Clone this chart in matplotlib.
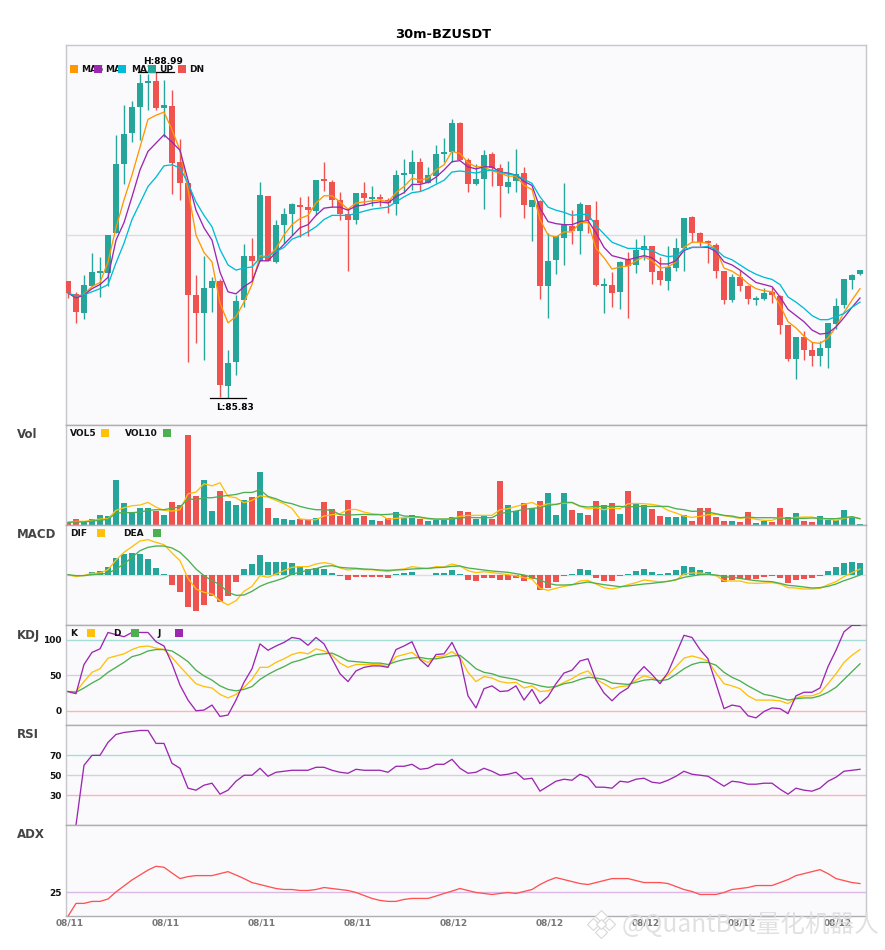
import numpy as np
import matplotlib
matplotlib.use('Agg')
import matplotlib.pyplot as plt
from matplotlib.patches import Rectangle
from matplotlib.lines import Line2D
from matplotlib.transforms import ScaledTranslation, Bbox

opens = [86.96,86.84,86.65,86.92,87.04,87.04,87.43,88.10,88.40,88.65,88.88,88.90,88.64,88.66,88.12,87.91,86.83,86.65,86.90,86.96,
         85.95,86.18,86.78,87.21,87.16,87.79,87.15,87.51,87.61,87.70,87.68,87.64,87.94,87.92,87.75,87.61,87.56,87.82,87.76,87.77,
         87.75,87.71,87.99,88.00,88.12,87.91,87.98,88.19,88.21,88.49,88.14,87.90,87.95,88.19,88.06,87.87,87.93,88.01,87.68,87.74,
         86.92,87.17,87.38,87.50,87.45,87.70,87.56,86.92,86.93,86.86,87.17,87.12,87.26,87.30,87.06,86.96,87.09,87.28,87.58,87.43,
         87.34,87.31,87.06,86.78,87.00,86.92,86.78,86.79,86.86,86.82,86.54,86.21,86.42,86.30,86.24,86.32,86.55,86.73,86.97,87.03]
highs = [86.96,86.86,87.02,87.24,87.20,87.41,88.38,88.67,88.71,88.97,88.97,88.99,88.91,88.81,88.34,87.91,87.02,87.21,87.00,86.98,
         86.30,86.83,87.32,87.38,87.92,87.79,87.56,87.67,87.72,87.78,87.79,87.94,88.12,87.94,87.83,87.66,87.82,87.92,87.88,87.81,
         87.77,88.04,88.15,88.23,88.16,88.07,88.28,88.35,88.53,88.50,88.16,88.10,88.23,88.21,88.10,88.13,88.24,88.07,87.75,87.75,
         87.43,87.40,87.91,87.65,87.73,87.70,87.74,86.99,87.05,87.16,87.25,87.37,87.41,87.30,87.20,87.30,87.38,87.57,87.59,87.44,
         87.36,87.33,87.06,87.03,87.07,86.93,86.82,86.90,86.91,86.83,86.54,86.42,86.48,86.37,86.38,86.56,86.80,86.98,87.03,87.07]
lows = [86.80,86.56,86.60,86.92,86.81,86.92,87.43,87.90,88.31,88.33,88.62,88.62,88.36,87.81,87.75,86.18,86.36,86.20,86.66,85.84,
        85.83,86.05,86.71,86.96,87.16,87.16,87.14,87.33,87.41,87.39,87.40,87.60,87.84,87.68,87.56,87.06,87.52,87.70,87.69,87.69,
        87.62,87.60,87.82,87.85,87.84,87.91,87.91,88.12,88.12,88.14,87.83,87.89,87.66,87.88,87.58,87.82,87.83,87.57,87.35,86.79,
        86.61,87.03,87.12,87.32,87.23,87.43,86.92,86.65,86.71,86.69,86.61,87.04,87.17,86.94,86.93,86.88,87.06,87.06,87.34,87.30,
        87.14,86.99,86.74,86.76,86.87,86.74,86.73,86.78,86.75,86.45,86.19,86.02,86.20,86.14,86.14,86.12,86.50,86.70,86.89,87.02]
closes = [86.85,86.66,86.93,87.05,87.05,87.41,88.10,88.39,88.65,88.88,88.90,88.64,88.67,88.11,87.91,86.83,86.65,86.90,86.96,85.96,
          86.17,86.77,87.21,87.16,87.80,87.16,87.51,87.61,87.71,87.68,87.65,87.94,87.93,87.75,87.61,87.56,87.82,87.77,87.77,87.76,
          87.72,87.99,88.00,88.12,87.91,87.99,88.19,88.20,88.49,88.14,87.90,87.95,88.18,88.06,87.88,87.92,88.00,87.70,87.75,86.92,
          87.16,87.40,87.51,87.45,87.71,87.56,86.93,86.93,86.85,87.15,87.11,87.26,87.30,87.05,86.97,87.10,87.28,87.57,87.43,87.34,
          87.33,87.06,86.78,87.00,86.92,86.79,86.79,86.85,86.83,86.54,86.21,86.42,86.30,86.24,86.32,86.56,86.72,86.98,87.02,87.07]

ma5 = [86.85,86.80,86.84,86.91,86.95,87.15,87.48,87.75,87.99,88.26,88.53,88.57,88.60,88.43,88.23,87.85,87.41,87.24,87.15,86.75,
       86.56,86.62,86.76,86.93,87.21,87.20,87.28,87.41,87.51,87.57,87.60,87.72,87.79,87.79,87.73,87.66,87.72,87.73,87.74,87.75,
       87.73,87.82,87.88,87.96,87.94,87.96,88.04,88.09,88.22,88.20,88.11,88.07,88.07,88.03,88.01,87.98,87.98,87.89,87.85,87.56,
       87.41,87.39,87.44,87.44,87.53,87.53,87.28,87.19,87.08,87.10,87.11,87.16,87.20,87.16,87.09,87.10,87.15,87.29,87.34,87.34,
       87.33,87.27,87.09,87.06,87.01,86.94,86.89,86.87,86.86,86.73,86.57,86.51,86.43,86.37,86.36,86.41,86.52,86.66,86.78,86.89]
ma10 = [86.85,86.80,86.83,86.89,86.93,87.00,87.36,87.53,87.78,88.04,88.22,88.30,88.38,88.31,88.23,87.94,87.65,87.48,87.36,87.05,
        86.86,86.84,86.91,86.96,87.16,87.16,87.24,87.32,87.40,87.48,87.51,87.60,87.67,87.68,87.68,87.65,87.69,87.70,87.72,87.73,
        87.72,87.78,87.82,87.90,87.90,87.92,87.97,88.04,88.12,88.13,88.07,88.05,88.07,88.07,88.02,88.01,87.99,87.93,87.89,87.67,
        87.54,87.52,87.51,87.51,87.54,87.55,87.43,87.29,87.21,87.19,87.17,87.19,87.21,87.19,87.13,87.13,87.16,87.26,87.29,87.29,
        87.29,87.25,87.15,87.12,87.07,87.01,86.95,86.93,86.91,86.81,86.69,86.63,86.57,86.49,86.45,86.46,86.52,86.61,86.71,86.80]
ma20 = [86.85,86.82,86.83,86.86,86.89,86.93,87.14,87.33,87.56,87.72,87.88,87.97,88.08,88.09,88.06,87.91,87.73,87.60,87.49,87.27,
        87.12,87.07,87.09,87.10,87.19,87.20,87.25,87.29,87.37,87.40,87.44,87.49,87.56,87.60,87.60,87.60,87.62,87.64,87.66,87.67,
        87.68,87.73,87.78,87.82,87.83,87.86,87.90,87.94,88.02,88.03,88.02,88.01,88.03,88.04,88.02,88.00,87.99,87.95,87.91,87.78,
        87.68,87.65,87.63,87.60,87.61,87.61,87.50,87.42,87.34,87.31,87.28,87.28,87.28,87.26,87.22,87.20,87.21,87.27,87.29,87.29,
        87.30,87.27,87.20,87.17,87.12,87.07,87.03,87.00,86.98,86.93,86.81,86.76,86.70,86.63,86.59,86.59,86.62,86.65,86.71,86.76]

volume = [8,17,11,17,29,26,134,65,38,50,50,41,29,68,59,272,86,134,41,101,71,59,74,83,161,50,20,17,
          14,17,14,20,68,47,26,74,20,26,14,11,20,38,20,29,17,11,14,14,23,41,38,17,26,17,131,59,41,65,50,71,95,29,95,44,35,29,
          71,59,65,32,101,62,59,47,26,23,23,29,11,50,50,23,11,11,8,38,5,11,8,50,23,35,11,8,26,14,14,44,23,2]
vol5 = [8,11,11,14,18,19,44,52,58,60,68,54,44,42,46,94,99,124,118,127,86,82,67,74,88,84,74,64,
        50,18,16,16,27,31,34,46,47,39,34,32,17,20,22,23,22,18,17,17,19,26,29,29,29,29,46,49,56,62,68,56,64,62,66,67,56,48,
        52,46,51,49,64,65,64,62,58,44,36,27,23,26,31,32,28,24,20,23,17,14,14,23,18,23,24,24,19,18,14,20,25,19]
vol10 = [8,9,9,12,14,17,36,37,37,39,44,46,46,51,54,79,76,82,82,86,89,92,98,98,106,86,79,69,64,
         56,50,46,46,44,31,30,31,32,31,31,32,34,27,26,24,20,18,18,18,21,23,22,22,22,35,38,42,47,50,52,59,62,68,68,57,54,
         56,56,56,56,54,56,56,56,56,56,49,46,41,42,39,34,29,27,22,24,22,22,22,21,20,20,20,21,20,19,19,22,25,19]

macd_hist = [0,-0.04,0,0.10,0.12,0.25,0.52,0.64,0.67,0.64,0.49,0.22,0.04,-0.29,-0.50,-0.95,-1.07,-0.89,-0.62,-0.80,-0.62,-0.20,0.19,0.34,0.61,0.40,0.40,0.40,0.37,0.28,
             0.19,0.22,0.19,0.07,-0.04,-0.14,-0.05,-0.05,-0.05,-0.05,-0.08,0.04,0.07,0.10,0,0,0.07,0.07,0.16,0.04,-0.14,-0.17,-0.08,-0.08,-0.14,-0.14,-0.08,-0.17,-0.11,-0.44,-0.38,-0.20,-0.02,0.04,0.19,0.16,
             -0.08,-0.17,-0.17,-0.02,0.04,0.13,0.19,0.10,0.04,0.07,0.16,0.28,0.25,0.16,0.10,-0.03,-0.20,-0.14,-0.11,-0.14,-0.11,-0.05,-0.02,-0.08,-0.23,-0.14,-0.11,-0.08,-0.02,0.13,0.25,0.37,0.40,0.37]
dif = [0.01,-0.05,-0.01,0.05,0.06,0.16,0.45,0.68,0.85,1.02,1.06,0.98,0.91,0.66,0.43,-0.10,-0.42,-0.52,-0.57,-0.77,-0.90,-0.77,-0.49,-0.34,-0.02,-0.07,0.03,0.13,
       0.23,0.25,0.25,0.33,0.37,0.33,0.21,0.15,0.18,0.16,0.16,0.13,0.10,0.16,0.18,0.25,0.22,0.19,0.25,0.24,0.33,0.27,0.13,0.07,0.10,0.07,0.04,0.01,-0.02,-0.08,-0.12,-0.40,-0.46,-0.40,-0.34,-0.30,-0.18,
       -0.16,-0.27,-0.38,-0.42,-0.37,-0.29,-0.23,-0.15,-0.18,-0.21,-0.19,-0.15,0.03,0.06,0.06,0.03,-0.02,-0.17,-0.18,-0.18,-0.24,-0.25,-0.24,-0.23,-0.27,-0.38,-0.39,-0.42,-0.42,-0.40,-0.29,-0.20,-0.05,0.07,0.18]
dea = [0.01,-0.02,-0.02,0.01,0.03,0.05,0.18,0.33,0.53,0.73,0.83,0.87,0.87,0.81,0.68,0.45,0.18,-0.02,-0.17,-0.29,-0.52,-0.61,-0.60,-0.49,-0.34,-0.24,-0.17,-0.09,
       0.03,0.08,0.15,0.19,0.26,0.28,0.23,0.21,0.20,0.18,0.17,0.15,0.14,0.15,0.16,0.18,0.19,0.20,0.22,0.23,0.26,0.27,0.21,0.18,0.15,0.12,0.10,0.08,0.04,0.00,-0.07,-0.15,-0.25,-0.30,-0.30,-0.29,-0.25,
       -0.21,-0.25,-0.29,-0.32,-0.35,-0.33,-0.30,-0.27,-0.25,-0.22,-0.19,-0.14,-0.07,-0.03,0.01,0.02,0.00,-0.05,-0.07,-0.10,-0.14,-0.17,-0.19,-0.20,-0.25,-0.31,-0.33,-0.36,-0.39,-0.38,-0.34,-0.27,-0.17,-0.09,0.00]

k_line = [27,27,41,54,59,74,77,80,86,90,91,88,86,75,62,50,38,34,32,23,18,23,33,44,61,61,68,73,79,82,
          80,87,84,78,67,61,65,65,65,65,62,76,79,82,73,68,76,77,83,75,54,41,48,46,41,39,40,32,35,27,28,34,40,45,52,56,
          44,38,31,34,35,43,49,46,42,50,62,74,77,74,70,53,38,35,31,21,15,15,15,14,10,18,21,21,25,38,52,68,78,86]
d_line = [27,26,32,39,45,54,61,68,76,79,84,86,86,84,77,69,57,49,43,35,30,28,30,34,44,51,57,62,68,71,
          75,79,80,81,76,70,69,68,67,67,65,69,72,74,75,73,73,75,77,78,69,59,54,52,48,46,44,40,38,35,33,34,38,40,44,47,
          46,44,39,38,37,40,43,44,42,44,51,59,65,68,68,64,54,47,42,35,29,23,21,18,15,17,18,18,21,26,33,44,55,66]
j_line = [27,24,65,82,87,110,107,104,110,110,110,97,91,66,36,15,0,1,8,-8,-6,15,40,59,94,85,91,96,103,101,
          92,103,94,73,52,41,56,61,63,63,61,86,91,97,72,62,79,80,96,73,21,4,31,35,27,28,35,15,30,10,20,38,53,57,70,73,
          43,25,14,25,32,50,62,51,38,54,80,106,103,86,73,38,3,8,6,-7,-10,-1,4,3,-4,21,26,26,32,62,85,111,120,120]

rsi = [np.nan,0,60,70,70,83,91,93,94,95,95,82,82,62,57,37,35,40,42,31,35,44,50,50,57,49,53,54,55,55,
       55,58,58,55,53,52,56,55,55,55,53,59,59,61,56,57,61,61,66,57,52,53,57,54,50,51,53,46,47,34,
       39,44,46,45,51,48,38,38,37,44,43,46,47,43,42,45,49,54,51,50,49,44,39,44,43,41,41,42,42,36,
       31,37,35,34,37,44,48,54,55,56]
adx = [13,19.5,19.5,20.5,20.5,21.7,25.3,28.3,31.3,33.8,36.3,38.2,37.7,34.8,32,33,33.5,33.5,33.5,34.5,
       35.5,33.8,32,30,29,28,27,26.5,26.5,26,26,26.5,27.5,27,26.5,26,25,23.5,22,21,20.5,20.5,21.5,22,22,22,23.2,
       24.5,25.7,27,26,25,24.5,24,24.5,25,24.5,25.5,26.5,29,31,32.5,31.5,30.5,29.5,29,30,31,32,32,32,31,30,30,30,29.5,28,
       26.5,25.5,24,24,24,25,26.5,27,27.5,28.5,28.5,28.5,30,31.5,33.5,34.5,35.5,36.5,34.5,32,31,30,29.5]

tick_labels = ['08/11', '08/11', '08/11', '08/11', '08/12', '08/12', '08/12', '08/12', '08/12']

UP = '#26a69a'
DOWN = '#ef5350'
W, H = 885, 950
BG = '#fafafd'
x = np.arange(len(opens))

fig = plt.figure(figsize=(W / 100, H / 100), dpi=100, facecolor='white')
plt.rcParams['font.family'] = ['DejaVu Sans']


def panel(top, bottom, ylim):
    # candle i sits on pixel 68 + 8 * i
    ax = fig.add_axes([65.5 / W, 1 - bottom / H, 800.5 / W, (bottom - top) / H], facecolor=BG)
    ax.set_xlim(-2.5 / 8, 798 / 8)
    ax.set_ylim(*ylim)
    ax.set_xticks([])
    ax.set_yticks([])
    for s in ['left', 'right']:
        ax.spines[s].set_color('#c6c6cc')
        ax.spines[s].set_linewidth(1)
    ax.spines['top'].set_color('#aeaeb2')
    ax.spines['bottom'].set_color('#aeaeb2')
    ax.spines['top'].set_linewidth(1)
    ax.spines['bottom'].set_linewidth(1)
    return ax


def legend_box(px, py, color):
    fig.add_artist(Rectangle((px / W, 1 - (py + 8) / H), 8 / W, 8 / H, transform=fig.transFigure,
                             facecolor=color, edgecolor='none', zorder=6))


def legend_text(px, py, s, clip_to=None):
    t = fig.text(px / W, 1 - py / H, s, fontsize=6.5, fontweight='bold', color='#111111',
                 ha='left', va='center', zorder=5)
    if clip_to is not None:
        t.set_clip_box(Bbox.from_extents(px - 1, 0, clip_to, H))
        t.set_clip_on(True)


def panel_title(py, s):
    fig.text(17 / W, 1 - py / H, s, fontsize=8.5, fontweight='bold', color='#444444', ha='left', va='center')


def y_labels(ax, vals):
    ax.set_yticks(vals)
    ax.set_yticklabels([str(v) for v in vals], fontsize=6.5, fontweight='bold', color='#111111')
    ax.tick_params(axis='y', length=0, pad=2.5)


colors = [UP if c > o else DOWN for o, c in zip(opens, closes)]

# main candles
ax = panel(45, 425, (85.57, 89.25))
ax.spines['top'].set_color('#c6c6cc')
ax.axhline((85.57 + 89.25) / 2, color='#dddde0', lw=1, zorder=1)
ax.vlines(x, lows, highs, color=colors, lw=1.0, zorder=2)
body_bottom = np.minimum(opens, closes)
body_height = np.maximum(np.abs(np.array(closes) - np.array(opens)), 0.02)
ax.bar(x, body_height, bottom=body_bottom, width=0.75, color=colors, zorder=3)
ax.plot(x, ma5, color='#ff9800', lw=0.95, zorder=4)
ax.plot(x, ma10, color='#9c27b0', lw=0.95, zorder=4)
ax.plot(x, ma20, color='#00bcd4', lw=0.95, zorder=4)

hi = int(np.argmax(highs))
lo = int(np.argmin(lows))
ax.plot([hi - 2.2, hi + 2.2], [highs[hi], highs[hi]], color='black', lw=0.9, zorder=5)
ax.plot([lo - 2.2, lo + 2.2], [lows[lo], lows[lo]], color='black', lw=0.9, zorder=5)
ax.annotate('H:%.2f' % highs[hi], (hi, highs[hi]), xytext=(5, 4), textcoords='offset points', ha='center',
            va='bottom', fontsize=6.5, fontweight='bold', color='black', zorder=8, annotation_clip=False)
ax.annotate('L:%.2f' % lows[lo], (lo, lows[lo]), xytext=(5, -3.5), textcoords='offset points', ha='center',
            va='top', fontsize=6.5, fontweight='bold', color='black', zorder=8, annotation_clip=False)

for px, s, clip in [(81, 'MA5', None), (105, 'MA10', 118), (131, 'MA20', 148), (159, 'UP', None), (189, 'DN', None)]:
    legend_text(px, 69.5, s, clip)
for px, c in [(70, '#ff9800'), (94, '#9c27b0'), (118, '#00bcd4'), (148, UP), (178, DOWN)]:
    legend_box(px, 65, c)

# volume
ax = panel(425, 525, (0, 301))
ax.bar(x, volume, width=0.75, color=colors, zorder=2)
ax.plot(x, vol5, color='#ffc107', lw=0.95, zorder=3)
ax.plot(x, vol10, color='#4caf50', lw=0.95, zorder=3)
panel_title(435, 'Vol')
legend_text(70, 434, 'VOL5')
legend_box(101, 429, '#ffc107')
legend_text(125, 434, 'VOL10')
legend_box(163, 429, '#4caf50')

# macd
ax = panel(525, 625, (-1.5, 1.5))
ax.axhline(0, color='#dddde0', lw=1, zorder=1)
ax.bar(x, macd_hist, width=0.75, color=[UP if v >= 0 else DOWN for v in macd_hist], zorder=2)
ax.plot(x, dif, color='#ffc107', lw=0.95, zorder=3)
ax.plot(x, dea, color='#4caf50', lw=0.95, zorder=3)
panel_title(535, 'MACD')
legend_text(70, 534, 'DIF')
legend_box(97, 529, '#ffc107')
legend_text(123, 534, 'DEA')
legend_box(153, 529, '#4caf50')

# kdj
ax = panel(625, 725, (-20, 120.5))
ax.axhline(100, color='#a8dcd6', lw=1, zorder=1)
ax.axhline(50, color='#d2d2d6', lw=1, zorder=1)
ax.axhline(0, color='#ffb3b3', lw=1, zorder=1)
ax.plot(x, k_line, color='#ffc107', lw=0.95, zorder=3)
ax.plot(x, d_line, color='#4caf50', lw=0.95, zorder=3)
ax.plot(x, j_line, color='#9c27b0', lw=0.95, zorder=3)
y_labels(ax, [0, 50, 100])
panel_title(635, 'KDJ')
legend_text(70, 634, 'K')
legend_box(87, 629, '#ffc107')
legend_text(113, 634, 'D')
legend_box(131, 629, '#4caf50')
legend_text(157, 634, 'J')
legend_box(175, 629, '#9c27b0')

# rsi
ax = panel(725, 825, (0, 100.5))
ax.axhline(70, color='#a8dcd6', lw=1, zorder=1)
ax.axhline(50, color='#d2d2d6', lw=1, zorder=1)
ax.axhline(30, color='#ffb3b3', lw=1, zorder=1)
ax.plot(x, rsi, color='#9c27b0', lw=0.95, zorder=3)
y_labels(ax, [30, 50, 70])
panel_title(735, 'RSI')

# adx
ax = panel(825, 915.7, (13.3, 59))
ax.axhline(25, color='#dcb8e4', lw=1, zorder=1)
ax.plot(x, adx, color='#ff5252', lw=0.95, zorder=3)
y_labels(ax, [25])
panel_title(835, 'ADX')
ax.set_xticks(x[::12])
ax.set_xticklabels(tick_labels, fontsize=6.5, fontweight='bold', color='#777777')
ax.tick_params(axis='x', length=0, pad=2)
for lab in ax.get_xticklabels():
    lab.set_transform(lab.get_transform() + ScaledTranslation(2 / 100, 0, fig.dpi_scale_trans))

fig.text(443 / W, 1 - 34.5 / H, '30m-BZUSDT', fontsize=9.4, fontweight='bold', color='black', ha='center', va='center')

# watermark
fig.text(622 / W, 1 - 925 / H, '@QuantBot量化机器人', fontsize=17.7, color='#dcdcdc', alpha=0.85, ha='left', va='center',
         family=['Noto Sans CJK SC', 'DejaVu Sans'], zorder=7)
for dx, dy, ms in [(0, -8, 6), (-8, 0, 6), (8, 0, 6), (0, 8, 6), (0, 0, 5)]:
    fig.add_artist(Line2D([(601 + dx) / W], [1 - (924 + dy) / H], transform=fig.transFigure, marker='D',
                          markersize=ms, markerfacecolor='white', markeredgecolor='#d8d8d8', markeredgewidth=0.8,
                          linestyle='none', zorder=7))

fig.savefig('out.png', dpi=100, facecolor='white')
